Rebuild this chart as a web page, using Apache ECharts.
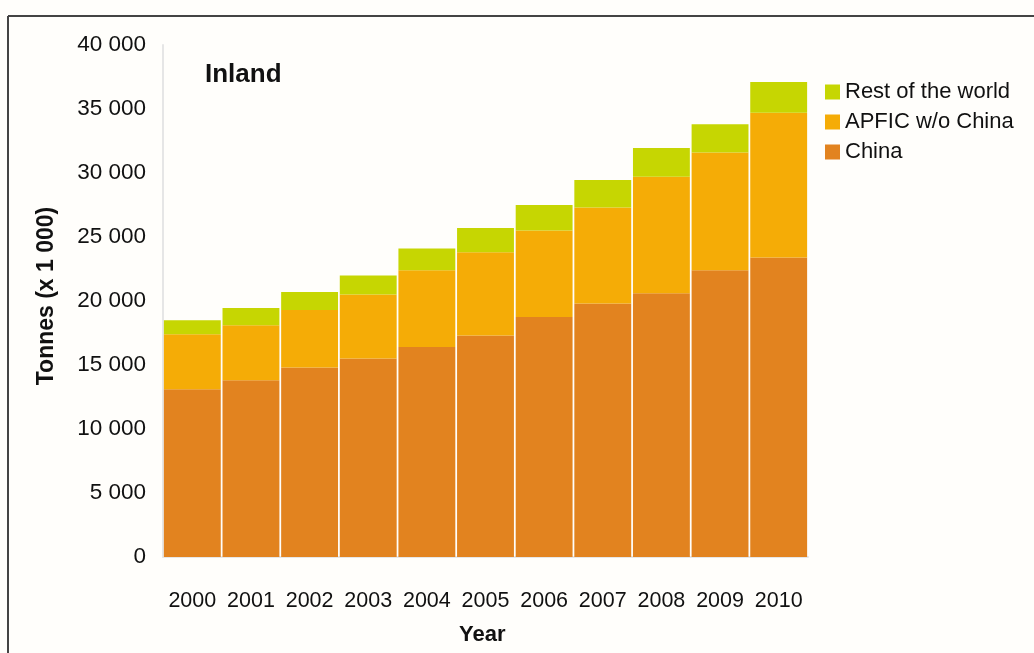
<!DOCTYPE html>
<html>
<head>
<meta charset="utf-8">
<script src="https://cdn.jsdelivr.net/npm/echarts@6/dist/echarts.min.js"></script>
<style>
  html, body { margin: 0; padding: 0; background: #fffefb; }
  #chart { width: 1034px; height: 653px; }
</style>
</head>
<body>
<div id="chart"></div>
<script>
// Inland aquaculture production, tonnes (x 1 000)
const years = ['2000', '2001', '2002', '2003', '2004', '2005', '2006', '2007', '2008', '2009', '2010'];
const china = [13100, 13800, 14800, 15500, 16400, 17300, 18750, 19800, 20600, 22400, 23400];
const apficNoChina = [4300, 4300, 4500, 5000, 6000, 6500, 6750, 7500, 9100, 9200, 11300];
const restOfWorld = [1100, 1350, 1400, 1500, 1700, 1900, 2000, 2150, 2250, 2200, 2400];
const yTicks = [0, 5000, 10000, 15000, 20000, 25000, 30000, 35000, 40000];

const FONT = 'Liberation Sans, Arial, sans-serif';
const fmt = v => v === 0 ? '0' : String(v).replace(/\B(?=(\d{3})+(?!\d))/g, ' ');

const chart = echarts.init(document.getElementById('chart'));
chart.setOption({
  backgroundColor: '#fffefb',
  animation: false,
  grid: { left: 163, right: 226, top: 45, bottom: 96 },
  legend: {
    orient: 'vertical',
    left: 820,
    top: 76,
    itemWidth: 15,
    itemHeight: 15,
    itemGap: 8,
    icon: 'rect',
    data: ['Rest of the world', 'APFIC w/o China', 'China'],
    textStyle: { fontFamily: FONT, fontSize: 22, color: '#111', padding: [0, 0, 0, 0] }
  },
  xAxis: {
    type: 'category',
    data: years,
    axisLine: { show: true, lineStyle: { color: '#e6e6e6', width: 2 } },
    axisTick: { show: false },
    axisLabel: { fontFamily: FONT, fontSize: 21.5, color: '#111', margin: 33,
                 interval: 0, hideOverlap: false }
  },
  yAxis: {
    type: 'value',
    min: yTicks[0],
    max: yTicks[yTicks.length - 1],
    interval: 5000,
    splitLine: { show: false },
    axisLine: { show: true, lineStyle: { color: '#e6e6e6', width: 2 } },
    axisTick: { show: false },
    axisLabel: { fontFamily: FONT, fontSize: 22.5, color: '#111', margin: 17, formatter: fmt }
  },
  series: [
    { name: 'China', type: 'bar', stack: 'total', data: china, barCategoryGap: '3%',
      itemStyle: { color: '#E2831F' } },
    { name: 'APFIC w/o China', type: 'bar', stack: 'total', data: apficNoChina,
      itemStyle: { color: '#F5AC06' } },
    { name: 'Rest of the world', type: 'bar', stack: 'total', data: restOfWorld,
      itemStyle: { color: '#C6D602' } }
  ],
  graphic: [
    { type: 'line', shape: { x1: 8, y1: 16, x2: 1034, y2: 16 }, style: { stroke: '#444', lineWidth: 2 } },
    { type: 'line', shape: { x1: 8, y1: 16, x2: 8, y2: 653 }, style: { stroke: '#444', lineWidth: 2 } },
    { type: 'text', left: 205, top: 62,
      style: { text: 'Inland', font: 'bold 26px ' + FONT, fill: '#111' } },
    { type: 'text', left: 459, top: 624,
      style: { text: 'Year', font: 'bold 22px ' + FONT, fill: '#111' } },
    { type: 'text', x: 47, y: 296, rotation: Math.PI / 2,
      style: { text: 'Tonnes (x 1 000)', font: 'bold 23px ' + FONT, fill: '#111',
               align: 'center', verticalAlign: 'middle' } }
  ]
});
</script>
</body>
</html>
